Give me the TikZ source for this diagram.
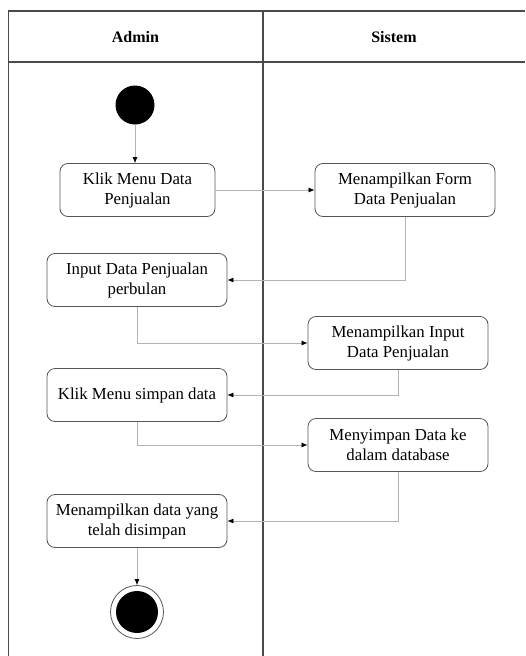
\documentclass[tikz,border=0pt]{standalone}
\usepackage{fontspec}
\setmainfont{Liberation Serif}
\usepackage{tikz}
\usetikzlibrary{arrows.meta,positioning}
\definecolor{lane}{HTML}{4A4A4A}
\definecolor{edge}{HTML}{555555}
\definecolor{wire}{HTML}{B4B4B4}

\begin{document}
\begin{tikzpicture}[
  x=1pt,y=-1pt,
  act/.style={draw=edge,rounded corners=8pt,align=center,
    font=\fontsize{16.8}{20}\selectfont,line width=0.8pt,
    minimum height=53pt,minimum width=180pt,inner sep=2pt},
  hdr/.style={font=\fontsize{16}{18}\selectfont\bfseries},
  a/.style={-{Latex[length=6pt,width=5pt,color=black]},draw=wire,line width=0.7pt}
]
\useasboundingbox (0,0) rectangle (525,656);
% swimlanes
\draw[lane,line width=1.3pt] (525,11) -- (8.5,11) -- (8.5,656);
\draw[lane,line width=1.3pt] (8.5,62) -- (525,62);
\draw[lane,line width=1.3pt] (263,11) -- (263,656);
\node[hdr] (admin) at (135.5,37) {Admin};
\node[hdr] (sistem) at (394,37) {Sistem};

\node[circle,fill=black,minimum size=39pt,inner sep=0pt] (start) at (135,105) {};
\node[act,minimum width=155pt] (klik) at (137.5,190) {Klik Menu Data\\Penjualan};
\node[act] (form) at (405,190) {Menampilkan Form\\Data Penjualan};
\node[act] (input) at (137,280) {Input Data Penjualan\\perbulan};
\node[act] (tampil) at (398,343) {Menampilkan Input\\Data Penjualan};
\node[act] (simpan) at (137,395) {Klik Menu simpan data};
\node[act] (db) at (398,445) {Menyimpan Data ke\\dalam database};
\node[act] (hasil) at (137,521) {Menampilkan data yang\\telah disimpan};
\node[circle,draw=edge,line width=0.8pt,minimum size=53pt,inner sep=0pt,
  path picture={\fill[black] (path picture bounding box.center) circle (21pt);}]
  (stop) at (137,612) {};

\draw[a] (start) -- (start |- klik.north);
\draw[a] (klik) -- (form);
\draw[a] (form.south) |- (input.east);
\draw[a] (input.south) |- (tampil.west);
\draw[a] (tampil.south) |- (simpan.east);
\draw[a] (simpan.south) |- (db.west);
\draw[a] (db.south) |- (hasil.east);
\draw[a] (hasil) -- (stop);
\end{tikzpicture}
\end{document}
